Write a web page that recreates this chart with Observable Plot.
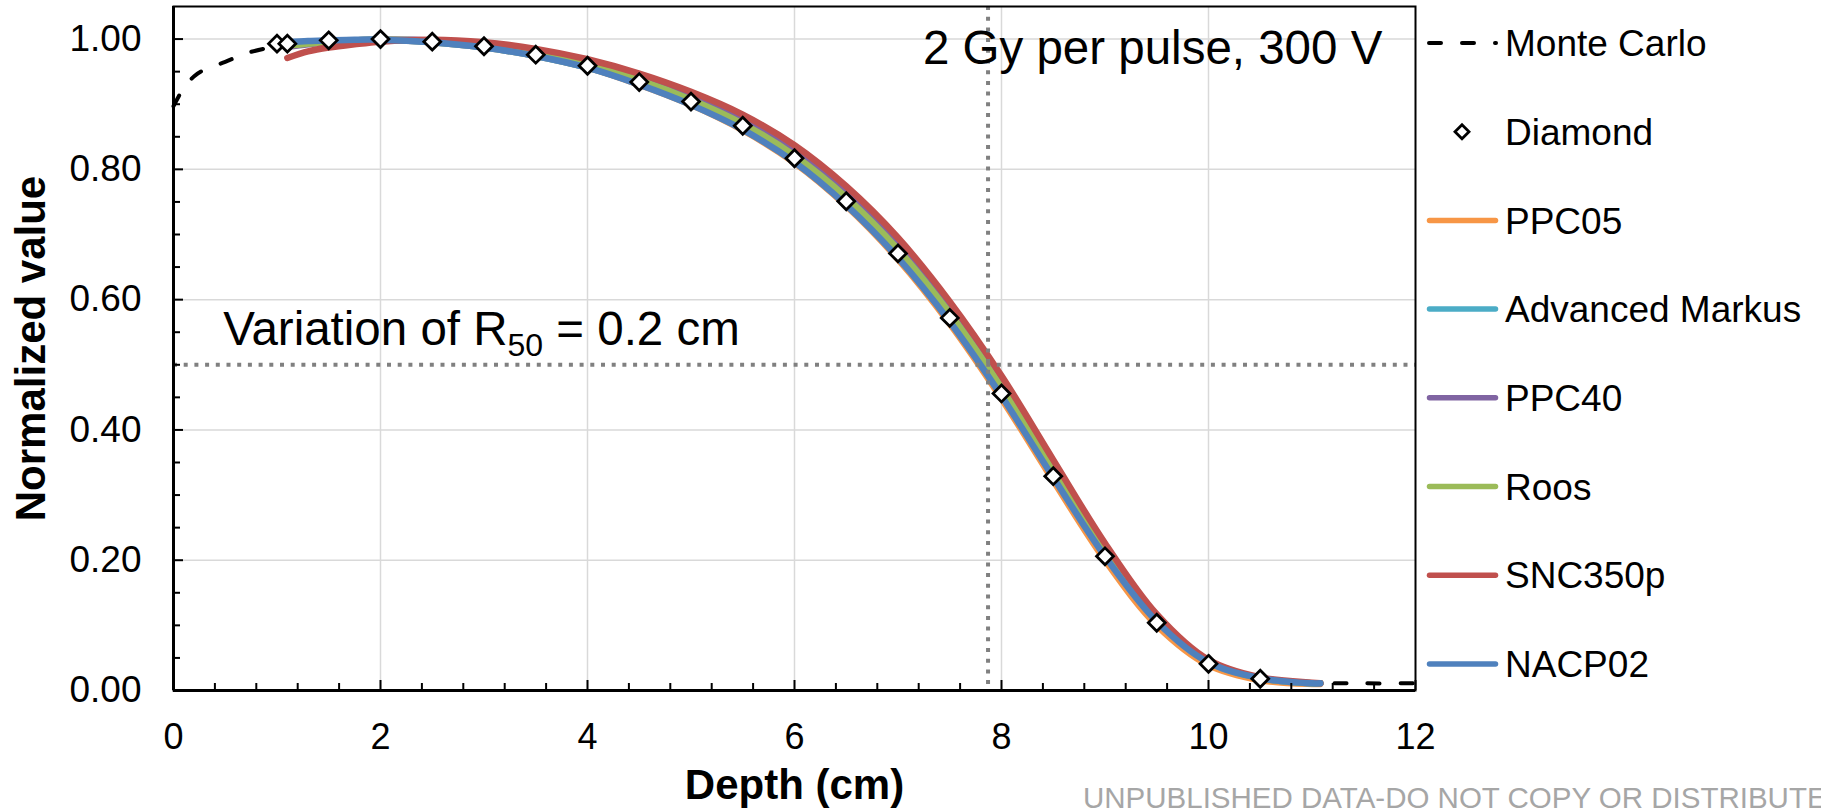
<!DOCTYPE html>
<html><head><meta charset="utf-8">
<script src="https://cdn.jsdelivr.net/npm/d3@7"></script>
<script src="https://cdn.jsdelivr.net/npm/@observablehq/plot@0.6"></script>
<style>
html,body{margin:0;padding:0;background:#fff;}
#wrap{position:relative;width:1821px;height:809px;overflow:hidden;font-family:"Liberation Sans",Arial,sans-serif;}
</style></head><body><div id="wrap"></div>
<script>
// ---- data ----
const depthMC = [0, 0.05, 0.1, 0.2, 0.3, 0.5, 0.7, 0.9, 1.1, 1.5, 2, 2.5, 3, 3.5, 4, 4.5, 5, 5.5, 6, 6.5, 7, 7.5, 8, 8.5, 9, 9.5, 10, 10.5, 11, 11.5, 12];
const valueMC = [0.897, 0.912, 0.925, 0.943, 0.953, 0.965, 0.978, 0.986, 0.992, 0.997, 0.999, 0.996, 0.989, 0.976, 0.958, 0.933, 0.903, 0.866, 0.816, 0.750, 0.669, 0.570, 0.455, 0.329, 0.207, 0.106, 0.043, 0.019, 0.012, 0.011, 0.011];

const depthDiamond = [1.0, 1.1, 1.5, 2, 2.5, 3, 3.5, 4, 4.5, 5, 5.5, 6, 6.5, 7, 7.5, 8, 8.5, 9, 9.5, 10, 10.5];
const valueDiamond = [0.993, 0.993, 0.998, 1.000, 0.996, 0.989, 0.976, 0.959, 0.934, 0.904, 0.867, 0.817, 0.751, 0.671, 0.572, 0.456, 0.329, 0.206, 0.104, 0.041, 0.018];

const depthChamber = [1.1, 1.3, 1.5, 1.75, 2, 2.5, 3, 3.5, 4, 4.5, 5, 5.5, 6, 6.5, 7, 7.5, 8, 8.5, 9, 9.5, 10, 10.5, 11, 11.08];
const valuePPC05   = [0.992, 0.995, 0.997, 0.998, 0.999, 0.995, 0.987, 0.974, 0.956, 0.930, 0.899, 0.860, 0.810, 0.744, 0.662, 0.563, 0.448, 0.322, 0.200, 0.100, 0.039, 0.016, 0.010, 0.010];
const valueAdvMarkus = [0.993, 0.996, 0.997, 0.998, 0.999, 0.995, 0.987, 0.974, 0.956, 0.931, 0.900, 0.862, 0.812, 0.747, 0.667, 0.570, 0.458, 0.335, 0.214, 0.112, 0.046, 0.019, 0.011, 0.011];
const valuePPC40   = [0.988, 0.992, 0.995, 0.997, 0.999, 0.998, 0.992, 0.981, 0.965, 0.942, 0.912, 0.876, 0.827, 0.763, 0.683, 0.585, 0.470, 0.342, 0.216, 0.111, 0.045, 0.019, 0.011, 0.011];
const valueRoos    = [0.990, 0.993, 0.996, 0.998, 0.999, 0.997, 0.990, 0.978, 0.961, 0.937, 0.907, 0.870, 0.821, 0.757, 0.677, 0.579, 0.465, 0.338, 0.213, 0.109, 0.044, 0.019, 0.011, 0.011];
const valueSNC350p = [0.971, 0.981, 0.987, 0.992, 0.996, 0.999, 0.995, 0.985, 0.969, 0.947, 0.919, 0.884, 0.837, 0.774, 0.695, 0.597, 0.483, 0.354, 0.226, 0.117, 0.047, 0.020, 0.012, 0.011];
const valueNACP02  = [0.995, 0.997, 0.998, 0.999, 0.999, 0.995, 0.987, 0.974, 0.956, 0.930, 0.899, 0.861, 0.811, 0.745, 0.664, 0.566, 0.452, 0.327, 0.206, 0.106, 0.043, 0.019, 0.011, 0.011];

const chamberNames  = ["PPC05", "Advanced Markus", "PPC40", "Roos", "SNC350p", "NACP02"];
const chamberColors = ["#F79646", "#4BACC6", "#8064A2", "#9BBB59", "#C0504D", "#4F81BD"];
const chamberValues = [valuePPC05, valueAdvMarkus, valuePPC40, valueRoos, valueSNC350p, valueNACP02];

const xTicks = [0, 2, 4, 6, 8, 10, 12];
const yTicks = [0, 0.2, 0.4, 0.6, 0.8, 1.0];
const xGrid = [2, 4, 6, 8, 10];
const yGrid = [0.2, 0.4, 0.6, 0.8, 1.0];
const xMinor = [0.4, 0.8, 1.2, 1.6, 2.4, 2.8, 3.2, 3.6, 4.4, 4.8, 5.2, 5.6, 6.4, 6.8, 7.2, 7.6, 8.4, 8.8, 9.2, 9.6, 10.4, 10.8, 11.2, 11.6];
const yMinor = [0.05, 0.1, 0.15, 0.25, 0.3, 0.35, 0.45, 0.5, 0.55, 0.65, 0.7, 0.75, 0.85, 0.9, 0.95];
const r50Depth = 7.87;
const refValue = 0.5;

const legendNames = ["Monte Carlo", "Diamond", ...chamberNames];

// ---- layout ----
const W = 1821, H = 809, mL = 173, mR = 406, mT = 6, mB = 119;
const innerW = W - mL - mR, innerH = H - mT - mB;
const FONT = "'Liberation Sans', Arial, Helvetica, sans-serif";

const rows = (xs, ys) => xs.map((x, i) => ({x, y: ys[i]}));
const gridStyle = {stroke: "#d9d9d9", strokeOpacity: 1, strokeWidth: 1.5};
const dotted = {stroke: "#808080", strokeWidth: 4, strokeDasharray: "4,6.7"};

const plot = Plot.plot({
  width: W, height: H,
  marginLeft: mL, marginRight: mR, marginTop: mT, marginBottom: mB,
  style: {fontFamily: FONT, fontSize: "36px", color: "#000", background: "#fff", overflow: "visible"},
  x: {domain: [0, 12], label: null},
  y: {domain: [0, 1.05], label: null},
  marks: [
    Plot.gridX({ticks: xGrid, ...gridStyle}),
    Plot.gridY({ticks: yGrid, ...gridStyle}),
    Plot.line(rows(depthMC, valueMC), {x: "x", y: "y", stroke: "#000", strokeWidth: 4, strokeDasharray: "12,21", strokeLinecap: "round", curve: "catmull-rom"}),
    ...chamberValues.map((vals, i) => Plot.line(rows(depthChamber, vals), {
      x: "x", y: "y", stroke: chamberColors[i], strokeWidth: 6.5,
      strokeLinecap: "round", strokeLinejoin: "round", curve: "catmull-rom"
    })),
    Plot.dot(rows(depthDiamond, valueDiamond), {x: "x", y: "y", symbol: "diamond2", r: 7.6, fill: "#fff", stroke: "#000", strokeWidth: 2.8}),
    Plot.ruleX([r50Depth], dotted),
    Plot.ruleY([refValue], dotted),
    Plot.ruleX(xMinor, {stroke: "#000", strokeWidth: 2, insetTop: innerH - 7}),
    Plot.ruleX(xTicks, {stroke: "#000", strokeWidth: 2, insetTop: innerH - 10}),
    Plot.ruleY(yMinor, {stroke: "#000", strokeWidth: 2, insetRight: innerW - 7}),
    Plot.ruleY(yTicks, {stroke: "#000", strokeWidth: 2, insetRight: innerW - 10}),
    Plot.frame({stroke: "#000", strokeWidth: 2}),
    Plot.ruleX([0], {stroke: "#000", strokeWidth: 3}),
    Plot.ruleY([0], {stroke: "#000", strokeWidth: 3}),
    Plot.axisX({ticks: xTicks, tickSize: 0, tickPadding: 33, fontSize: 36, label: null, tickFormat: d => String(d)}),
    Plot.axisY({ticks: yTicks, tickSize: 0, tickPadding: 32, fontSize: 37, label: null, tickFormat: d3.format(".2f")}),
    Plot.text(["Normalized value"], {text: d => d, frameAnchor: "left", dx: -142, rotate: -90, fontWeight: "bold", fontSize: 42, textAnchor: "middle", lineAnchor: "middle"}),
    Plot.text(["Depth (cm)"], {text: d => d, frameAnchor: "bottom", dy: 95, fontWeight: "bold", fontSize: 42, textAnchor: "middle", lineAnchor: "middle"}),
    Plot.text(["2 Gy per pulse, 300 V"], {text: d => d, x: 9.46, y: 0.985, fontSize: 47.5, textAnchor: "middle", lineAnchor: "middle"}),
    Plot.text(["Variation of R50 = 0.2 cm"], {text: d => d, x: 2.976, y: 0.553, fontSize: 47.5, textAnchor: "middle", lineAnchor: "middle", className: "r50"})
  ]
});

// subscript in the R50 annotation
plot.querySelectorAll(".r50 text, text.r50").forEach(node => {
  const t = d3.select(node);
  t.text(null).style("white-space", "pre");
  t.append("tspan").text("Variation of R");
  t.append("tspan").attr("font-size", 32).attr("dy", 11).text("50");
  t.append("tspan").attr("dy", -11).text(" = 0.2 cm");
});

const wrap = document.getElementById("wrap");
wrap.appendChild(plot);

// ---- legend + watermark overlay ----
const leg = d3.create("svg")
  .attr("width", W).attr("height", H)
  .style("position", "absolute").style("left", "0px").style("top", "0px")
  .style("font-family", FONT).style("pointer-events", "none");

const rowY0 = 43, rowStep = 88.7, lx0 = 1429.5, lx1 = 1495.5, tx = 1505;
legendNames.forEach((name, i) => {
  const y = rowY0 + i * rowStep;
  if (i === 0) {
    leg.append("line").attr("x1", 1429).attr("x2", 1496).attr("y1", y).attr("y2", y)
      .attr("stroke", "#000").attr("stroke-width", 4).attr("stroke-dasharray", "12,21").attr("stroke-linecap", "round");
  } else if (i === 1) {
    const c = 1462, r = 7;
    leg.append("path").attr("d", `M${c},${y - r}L${c + r},${y}L${c},${y + r}L${c - r},${y}Z`)
      .attr("fill", "#fff").attr("stroke", "#000").attr("stroke-width", 2.8);
  } else {
    leg.append("line").attr("x1", lx0).attr("x2", lx1).attr("y1", y).attr("y2", y)
      .attr("stroke", chamberColors[i - 2]).attr("stroke-width", 5.5).attr("stroke-linecap", "round");
  }
  leg.append("text").attr("x", tx).attr("y", y).attr("dy", "0.358em")
    .attr("font-size", 37).attr("fill", "#000").text(name);
});

leg.append("text").attr("x", 1083).attr("y", 808).attr("font-size", 29.5).attr("fill", "#a6a6a6")
  .text("UNPUBLISHED DATA-DO NOT COPY OR DISTRIBUTE");

wrap.appendChild(leg.node());
</script>
</body></html>
